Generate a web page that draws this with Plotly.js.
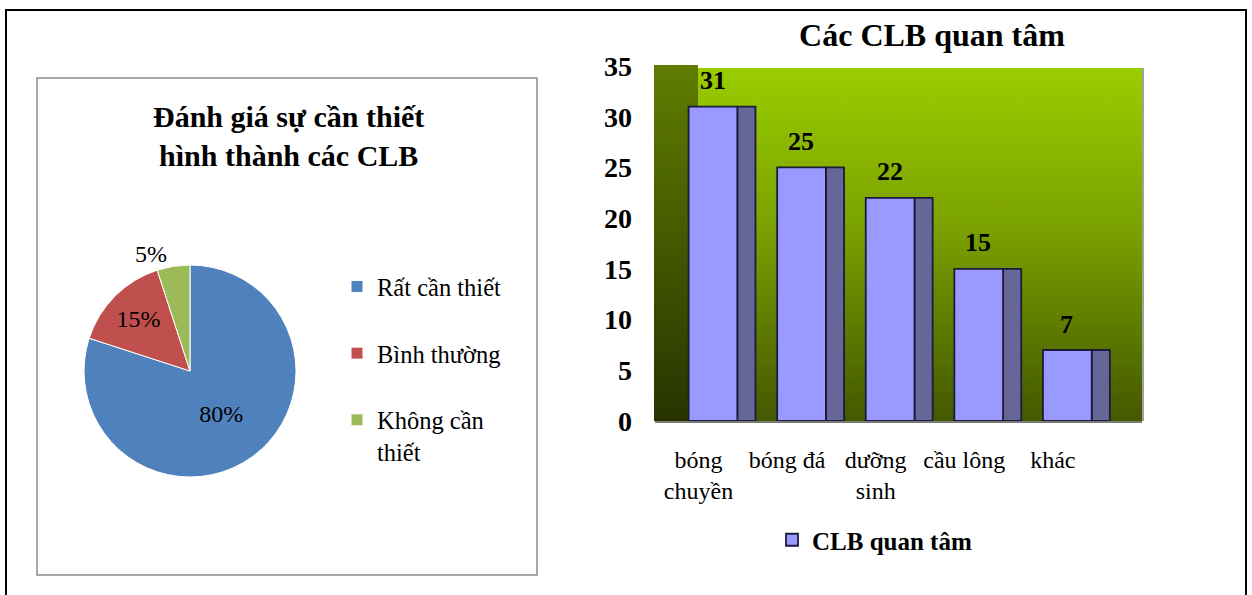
<!DOCTYPE html>
<html>
<head>
<meta charset="utf-8">
<script src="https://cdn.plot.ly/plotly-3.0.1.min.js"></script>
<style>
  html, body { margin: 0; padding: 0; background: #fff; }
  #chart { width: 1252px; height: 595px; }
</style>
</head>
<body>
<div id="chart"></div>
<script>
// ---- data ----
const pieTitle = 'Đánh giá sự cần thiết<br>hình thành các CLB';
const pieLabels = ['Rất cần thiết', 'Bình thường', 'Không cần thiết'];
const pieLegendText = ['Rất cần thiết<br>\u00a0', 'Bình thường<br>\u00a0', 'Không cần<br>thiết'];
const pieValues = [80, 15, 5];
const pieColors = ['#4f81bd', '#c0504d', '#9bbb59'];

const barTitle = 'Các CLB quan tâm';
const clubs = ['bóng chuyền', 'bóng đá', 'dưỡng sinh', 'cầu lông', 'khác'];
const clubTickText = ['bóng<br>chuyền', 'bóng đá', 'dưỡng<br>sinh', 'cầu lông', 'khác'];
const clubCounts = [31, 25, 22, 15, 7];
const seriesName = 'CLB quan tâm';
const yTicks = [0, 5, 10, 15, 20, 25, 30, 35];

// ---- helpers ----
const W = 1252, H = 595;
const px = v => v / W;
const py = v => 1 - v / H;
const SERIF = 'Liberation Serif, Times New Roman, serif';

function gradient(stops, w, h) {
  const c = document.createElement('canvas');
  c.width = w; c.height = h;
  const g = c.getContext('2d');
  const lg = g.createLinearGradient(0, 0, 0, h);
  stops.forEach(s => lg.addColorStop(s[0], s[1]));
  g.fillStyle = lg;
  g.fillRect(0, 0, w, h);
  return c.toDataURL();
}

const backWall = gradient([[0, '#9acd00'], [0.45, '#7ba200'], [1, '#445800']], 40, 360);
const sideWall = gradient([[0, '#607d00'], [1, '#283400']], 40, 360);

// ---- traces ----
const pieTrace = {
  type: 'pie',
  labels: pieLegendText,
  values: pieValues,
  sort: false,
  direction: 'clockwise',
  rotation: 0,
  marker: { colors: pieColors, line: { color: '#ffffff', width: 1 } },
  textinfo: 'percent',
  textposition: ['inside', 'inside', 'outside'],
  insidetextorientation: 'horizontal',
  textfont: { family: SERIF, size: 24, color: '#000' },
  outsidetextfont: { family: SERIF, size: 24, color: '#000' },
  domain: { x: [px(84), px(296)], y: [py(477), py(265)] },
  legend: 'legend',
  hoverinfo: 'label+percent'
};

const barFront = {
  type: 'bar',
  name: seriesName,
  x: clubs,
  y: clubCounts,
  width: 0.55,
  offset: -0.27,
  marker: { color: '#9999ff', line: { color: '#1c1c3a', width: 1.8 } },
  xaxis: 'x', yaxis: 'y',
  legend: 'legend2',
  hoverinfo: 'x+y'
};

const barSide = {
  type: 'bar',
  name: seriesName,
  x: clubs,
  y: clubCounts,
  width: 0.205,
  offset: 0.28,
  marker: { color: '#666699', line: { color: '#1c1c3a', width: 1.8 } },
  xaxis: 'x', yaxis: 'y',
  showlegend: false,
  hoverinfo: 'skip'
};

// ---- annotations ----
const annotations = [{
  xref: 'paper', yref: 'paper',
  x: px(288), y: py(136),
  xanchor: 'center', yanchor: 'middle',
  text: pieTitle, showarrow: false,
  font: { family: SERIF, size: 30, color: '#000', weight: 'bold' }
}];
clubs.forEach((c, i) => {
  annotations.push({
    xref: 'x', yref: 'y', x: c, y: clubCounts[i],
    text: String(clubCounts[i]), showarrow: false,
    yanchor: 'middle', yshift: 26,
    font: { family: SERIF, size: 26, color: '#000', weight: 'bold' }
  });
});

const layout = {
  width: W, height: H,
  margin: { l: 0, r: 0, t: 0, b: 0 },
  paper_bgcolor: '#ffffff',
  plot_bgcolor: 'rgba(0,0,0,0)',
  font: { family: SERIF, color: '#000' },
  title: {
    text: barTitle, xref: 'paper', yref: 'paper',
    x: px(932), y: py(35), xanchor: 'center', yanchor: 'middle',
    font: { family: SERIF, size: 32, color: '#000', weight: 'bold' }
  },
  barmode: 'overlay',
  xaxis: {
    domain: [px(655), px(1142)],
    range: [-0.649, 4.848],
    type: 'category',
    tickvals: clubs,
    ticktext: clubTickText,
    ticks: '',
    showgrid: false,
    zeroline: false,
    showline: true, linecolor: '#7a7a7a', linewidth: 2,
    ticklabelshift: -14,
    ticklabelstandoff: 16,
    tickfont: { family: SERIF, size: 24, color: '#000' },
    fixedrange: true
  },
  yaxis: {
    domain: [py(421), py(66)],
    range: [0, 35],
    tickvals: yTicks,
    ticks: '',
    showgrid: false,
    zeroline: false,
    showline: false,
    ticklabelstandoff: 22,
    tickfont: { family: SERIF, size: 28, color: '#000', weight: 'bold' },
    fixedrange: true
  },
  legend: {
    x: px(337), y: py(264), xanchor: 'left', yanchor: 'top',
    bgcolor: 'rgba(0,0,0,0)',
    valign: 'top',
    font: { family: SERIF, size: 24.5, color: '#000' }
  },
  legend2: {
    orientation: 'h',
    x: px(772), y: py(540), xanchor: 'left', yanchor: 'middle',
    bgcolor: 'rgba(0,0,0,0)',
    font: { family: SERIF, size: 25, color: '#000', weight: 'bold' }
  },
  images: [
    { source: sideWall, xref: 'paper', yref: 'paper', x: px(654), y: py(65),
      sizex: px(44), sizey: 356 / H, sizing: 'stretch', xanchor: 'left', yanchor: 'top', layer: 'below' },
    { source: backWall, xref: 'paper', yref: 'paper', x: px(698), y: py(68),
      sizex: px(444), sizey: 353 / H, sizing: 'stretch', xanchor: 'left', yanchor: 'top', layer: 'below' }
  ],
  shapes: [
    { type: 'rect', xref: 'paper', yref: 'paper', x0: px(6), x1: px(1246), y0: -0.02, y1: py(10),
      line: { color: '#000', width: 2 }, fillcolor: 'rgba(0,0,0,0)', layer: 'below' },
    { type: 'rect', xref: 'paper', yref: 'paper', x0: px(37), x1: px(537), y0: py(575), y1: py(78),
      line: { color: '#8c8c8c', width: 1.5 }, fillcolor: 'rgba(0,0,0,0)', layer: 'below' },
    { type: 'line', xref: 'paper', yref: 'paper', x0: px(1143), x1: px(1143), y0: py(421), y1: py(68),
      line: { color: '#a0a0a0', width: 2 }, layer: 'below' }
  ],
  annotations: annotations,
  showlegend: true
};

Plotly.newPlot('chart', [pieTrace, barSide, barFront], layout, { displayModeBar: false, staticPlot: true });
</script>
</body>
</html>
